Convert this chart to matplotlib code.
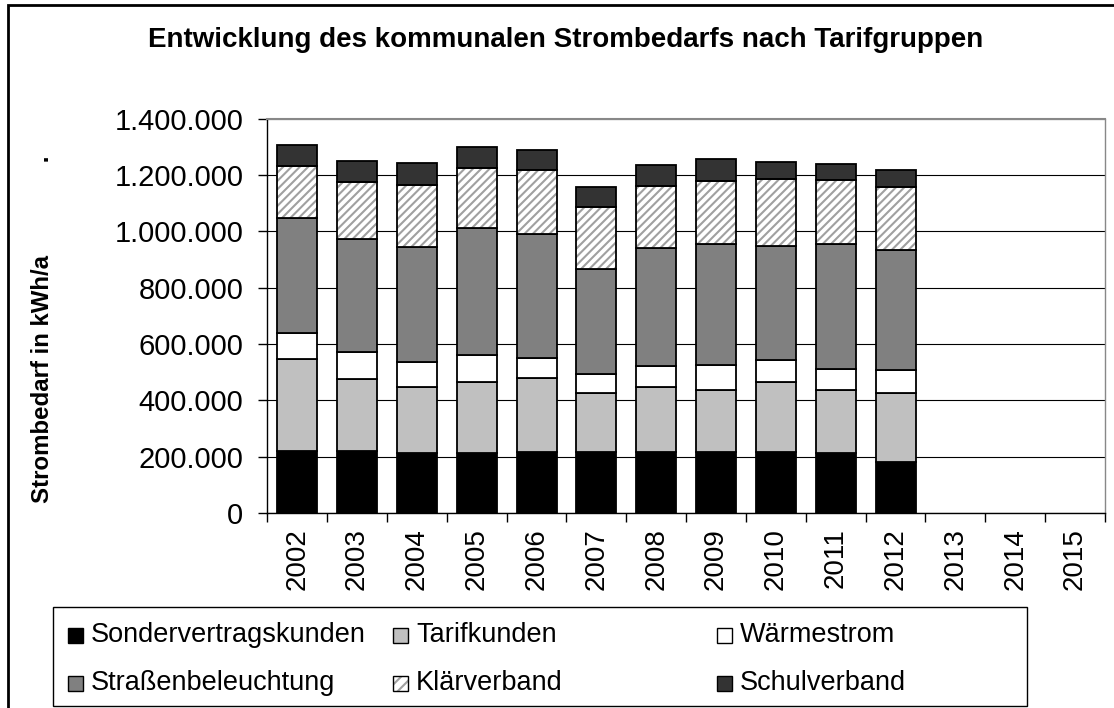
import matplotlib
matplotlib.use('Agg')
import matplotlib.pyplot as plt
import numpy as np
from matplotlib.patches import Rectangle
from matplotlib.ticker import FuncFormatter

plt.rcParams['font.family'] = ['Liberation Sans', 'DejaVu Sans']
plt.rcParams['hatch.linewidth'] = 1.5

# ---------------- data ----------------
years = ['2002', '2003', '2004', '2005', '2006', '2007', '2008',
         '2009', '2010', '2011', '2012', '2013', '2014', '2015']
sondervertragskunden = [221000, 219000, 213000, 213000, 216000, 215000, 216000,
                        216000, 216000, 212000, 181000]
tarifkunden = [324000, 255000, 235000, 253000, 262000, 210000, 232000,
               220000, 249000, 224000, 246000]
waermestrom = [95000, 98000, 87000, 95000, 72000, 69000, 75000,
               89000, 77000, 75000, 82000]
strassenbeleuchtung = [408000, 399000, 410000, 449000, 441000, 371000, 419000,
                       428000, 407000, 445000, 423000]
klaerverband = [183000, 204000, 220000, 214000, 227000, 220000, 217000,
                226000, 235000, 225000, 225000]
schulverband = [76000, 74000, 77000, 74000, 71000, 72000, 75000,
                78000, 62000, 56000, 60000]

series_names = ['Sondervertragskunden', 'Tarifkunden', 'Wärmestrom',
                'Straßenbeleuchtung', 'Klärverband', 'Schulverband']
series_values = [sondervertragskunden, tarifkunden, waermestrom,
                 strassenbeleuchtung, klaerverband, schulverband]
series_colors = ['#000000', '#c0c0c0', '#ffffff', '#808080', '#ffffff', '#333333']
series_hatch = [None, None, None, None, '////', None]

title = 'Entwicklung des kommunalen Strombedarfs nach Tarifgruppen'
ylabel = 'Strombedarf in kWh/a' + ' ' * 14 + '.'

# ---------------- figure ----------------
W, H = 1114, 708
fig = plt.figure(figsize=(W / 100, H / 100), dpi=100)


def fx(px):
    return px / W


def fy(py):
    return 1 - py / H


# outer chart border (extends beyond image bottom/right)
fig.add_artist(Rectangle((fx(7.7), -0.1), fx(1125) - fx(7.7), fy(4.5) + 0.1,
                         transform=fig.transFigure, fill=False,
                         edgecolor='black', linewidth=2.0, clip_on=False))

ax = fig.add_axes([fx(267.3), fy(513), fx(1105) - fx(267.3), fy(118.5) - fy(513)])

x = np.arange(len(sondervertragskunden))
bottom = np.zeros(len(x))
bw = 0.667
for vals, col, hat in zip(series_values, series_colors, series_hatch):
    vals = np.array(vals, dtype=float)
    if hat:
        ax.bar(x, vals, width=bw, bottom=bottom, color='white',
               edgecolor='#a0a0a0', hatch=hat, linewidth=0, zorder=3)
        ax.bar(x, vals, width=bw, bottom=bottom, fill=False,
               edgecolor='black', linewidth=1.3, zorder=4)
    else:
        ax.bar(x, vals, width=bw, bottom=bottom, color=col,
               edgecolor='black', linewidth=1.3, zorder=3)
    bottom += vals

ax.set_xlim(-0.5, len(years) - 0.5)
ax.set_ylim(0, 1400000)

ax.set_yticks(np.arange(0, 1400001, 200000))
ax.yaxis.set_major_formatter(FuncFormatter(lambda v, p: f"{int(v):,}".replace(',', '.')))
ax.yaxis.grid(True, color='black', linewidth=0.8)
ax.set_axisbelow(True)

ax.set_xticks(np.arange(-0.5, len(years), 1))
ax.set_xticklabels([])
ax.set_xticks(np.arange(len(years)), minor=True)
ax.set_xticklabels(years, minor=True, rotation=90, fontsize=20)
ax.tick_params(axis='x', which='major', length=6.5, width=1, direction='out')
ax.tick_params(axis='x', which='minor', length=0, pad=11)
ax.tick_params(axis='y', length=6.5, width=1, direction='out', pad=10.8, labelsize=21)

for s in ['left', 'bottom']:
    ax.spines[s].set_color('black')
    ax.spines[s].set_linewidth(1.0)
ax.spines['top'].set_color('#888888')
ax.spines['top'].set_linewidth(1.5)
ax.spines['right'].set_color('#888888')
ax.spines['right'].set_linewidth(1.0)

# title and y label
fig.text(fx(566), fy(40), title, ha='center', va='center',
         fontsize=20, fontweight='bold')
fig.text(fx(43), fy(329), ylabel, ha='center', va='center', rotation=90,
         fontsize=17.3, fontweight='bold')

# legend (Excel-style grid: 3 columns x 2 rows)
fig.add_artist(Rectangle((fx(53), fy(706)), fx(1027) - fx(53), fy(607) - fy(706),
                         transform=fig.transFigure, fill=False,
                         edgecolor='black', linewidth=1.0))
col_x = [68, 393, 717]
row_y = [635, 683]
msz = 15
for i, (name, col, hat) in enumerate(zip(series_names, series_colors, series_hatch)):
    cx = col_x[i % 3]
    cy = row_y[i // 3]
    xy = (fx(cx), fy(cy + msz / 2))
    wdt = fx(cx + msz) - fx(cx)
    hgt = fy(cy - msz / 2) - fy(cy + msz / 2)
    if hat:
        fig.add_artist(Rectangle(xy, wdt, hgt, transform=fig.transFigure,
                                 facecolor='white', edgecolor='#a0a0a0',
                                 hatch='///', linewidth=0))
        fig.add_artist(Rectangle(xy, wdt, hgt, transform=fig.transFigure,
                                 fill=False, edgecolor='black', linewidth=1.0))
    else:
        fig.add_artist(Rectangle(xy, wdt, hgt, transform=fig.transFigure,
                                 facecolor=col, edgecolor='black', linewidth=1.0))
    fig.text(fx(cx + msz + 8), fy(cy), name, ha='left', va='center', fontsize=19.5)

fig.savefig('out.png', dpi=100)
